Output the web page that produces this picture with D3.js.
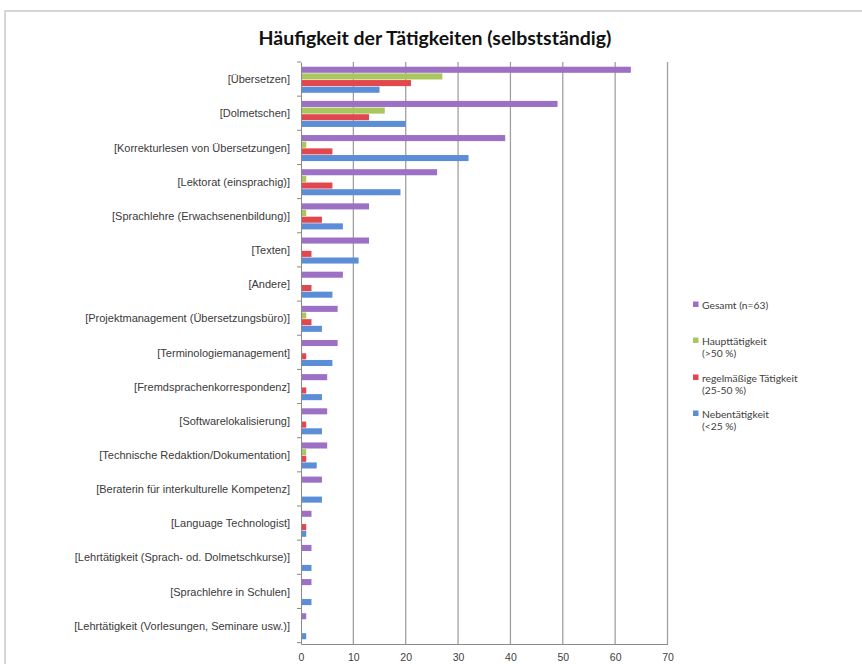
<!DOCTYPE html>
<html>
<head>
<meta charset="utf-8">
<script src="https://cdn.jsdelivr.net/npm/d3@7"></script>
<style>
  body { margin: 0; background: #fff; }
  svg { display: block; }
</style>
</head>
<body>
<svg id="chart"></svg>
<script>
// Daten
const categories = [
    '[Übersetzen]',
    '[Dolmetschen]',
    '[Korrekturlesen von Übersetzungen]',
    '[Lektorat (einsprachig)]',
    '[Sprachlehre (Erwachsenenbildung)]',
    '[Texten]',
    '[Andere]',
    '[Projektmanagement (Übersetzungsbüro)]',
    '[Terminologiemanagement]',
    '[Fremdsprachenkorrespondenz]',
    '[Softwarelokalisierung]',
    '[Technische Redaktion/Dokumentation]',
    '[Beraterin für interkulturelle Kompetenz]',
    '[Language Technologist]',
    '[Lehrtätigkeit (Sprach- od. Dolmetschkurse)]',
    '[Sprachlehre in Schulen]',
    '[Lehrtätigkeit (Vorlesungen, Seminare usw.)]'
];
const gesamt = [63, 49, 39, 26, 13, 13, 8, 7, 7, 5, 5, 5, 4, 2, 2, 2, 1];
const haupt = [27, 16, 1, 1, 1, 0, 0, 1, 0, 0, 0, 1, 0, 0, 0, 0, 0];
const regel = [21, 13, 6, 6, 4, 2, 2, 2, 1, 1, 1, 1, 0, 1, 0, 0, 0];
const neben = [15, 20, 32, 19, 8, 11, 6, 4, 6, 4, 4, 3, 4, 1, 2, 2, 1];
const xTicks = [0, 10, 20, 30, 40, 50, 60, 70];

const series = [
    { key: 'gesamt', label: ['Gesamt (n=63)'], values: gesamt, color: '#9c70c4' },
    { key: 'haupt', label: ['Haupttätigkeit', '(>50 %)'], values: haupt, color: '#a9c75c' },
    { key: 'regel', label: ['regelmäßige Tätigkeit', '(25-50 %)'], values: regel, color: '#e2474d' },
    { key: 'neben', label: ['Nebentätigkeit', '(<25 %)'], values: neben, color: '#5b8ed6' }
];

const width = 862;
const height = 664;
const plot = { left: 301, right: 667.5, top: 62, bottom: 644 };

const svg = d3.select('#chart')
    .attr('width', width)
    .attr('height', height)
    .style('font-family', 'Lato, "Open Sans", sans-serif');

// Rahmen (Dokument)
svg.append('path')
    .attr('d', `M5,${height} V11 H${width}`)
    .attr('fill', 'none')
    .attr('stroke', '#d6d6d6')
    .attr('stroke-width', 2);

// Skalen
const x = d3.scaleLinear()
    .domain([0, 70])
    .range([plot.left, plot.right]);

const y = d3.scaleBand()
    .domain(categories)
    .range([plot.top, plot.bottom])
    .paddingInner(0.22)
    .paddingOuter(0.13);

const ySeries = d3.scaleBand()
    .domain(series.map(s => s.key))
    .range([0, y.bandwidth()]);

// Gitternetz
svg.append('g')
    .selectAll('line')
    .data(xTicks.slice(1))
    .enter().append('line')
    .attr('x1', d => x(d))
    .attr('x2', d => x(d))
    .attr('y1', plot.top)
    .attr('y2', plot.bottom)
    .attr('stroke', '#a0a0a0')
    .attr('stroke-width', 1.3);

// Balken
const rows = categories.map((c, i) => series.map(s => ({ cat: c, key: s.key, value: s.values[i], color: s.color })));

svg.append('g')
    .selectAll('g')
    .data(rows)
    .enter().append('g')
    .attr('transform', d => `translate(0,${y(d[0].cat)})`)
    .selectAll('rect')
    .data(d => d.filter(v => v.value > 0))
    .enter().append('rect')
    .attr('x', x(0))
    .attr('y', d => ySeries(d.key) + 0.3)
    .attr('width', d => x(d.value) - x(0))
    .attr('height', ySeries.bandwidth() - 0.6)
    .attr('fill', d => d.color);

// Achsen
const xAxis = d3.axisBottom(x)
    .tickValues(xTicks)
    .tickSize(0)
    .tickPadding(10);

const gx = svg.append('g')
    .attr('transform', `translate(0,${plot.bottom})`)
    .call(xAxis);
gx.select('.domain').attr('stroke', '#8a8a8a');
gx.selectAll('text')
    .attr('fill', '#404040')
    .style('font-size', '10.5px');

const yAxis = d3.axisLeft(y)
    .tickSize(0)
    .tickPadding(11);

const gy = svg.append('g')
    .attr('transform', `translate(${plot.left},0)`)
    .call(yAxis);
gy.select('.domain').attr('stroke', '#8a8a8a');
gy.selectAll('text')
    .attr('fill', '#3a3a3a')
    .style('font-size', '11px');

// kleine Teilstriche zwischen den Kategorien
svg.append('g')
    .selectAll('line')
    .data(d3.range(categories.length + 1))
    .enter().append('line')
    .attr('x1', plot.left - 4)
    .attr('x2', plot.left)
    .attr('y1', i => plot.top + i * y.step())
    .attr('y2', i => plot.top + i * y.step())
    .attr('stroke', '#8a8a8a');

// Titel
svg.append('text')
    .attr('x', 435)
    .attr('y', 45)
    .attr('text-anchor', 'middle')
    .style('font-size', '19.5px')
    .style('font-weight', 'bold')
    .attr('fill', '#111')
    .text('Häufigkeit der Tätigkeiten (selbstständig)');

// Legende
const legendY = [305, 341, 378, 414];
const legend = svg.append('g')
    .selectAll('g')
    .data(series)
    .enter().append('g')
    .attr('transform', (d, i) => `translate(693,${legendY[i]})`);

legend.append('rect')
    .attr('x', 0)
    .attr('y', -3.5)
    .attr('width', 5.5)
    .attr('height', 5.5)
    .attr('fill', d => d.color);

legend.append('text')
    .attr('y', 3.5)
    .attr('fill', '#404040')
    .style('font-size', '10.3px')
    .selectAll('tspan')
    .data(d => d.label)
    .enter().append('tspan')
    .attr('x', 9)
    .attr('dy', (d, i) => i === 0 ? 0 : 12)
    .text(d => d);
</script>
</body>
</html>
